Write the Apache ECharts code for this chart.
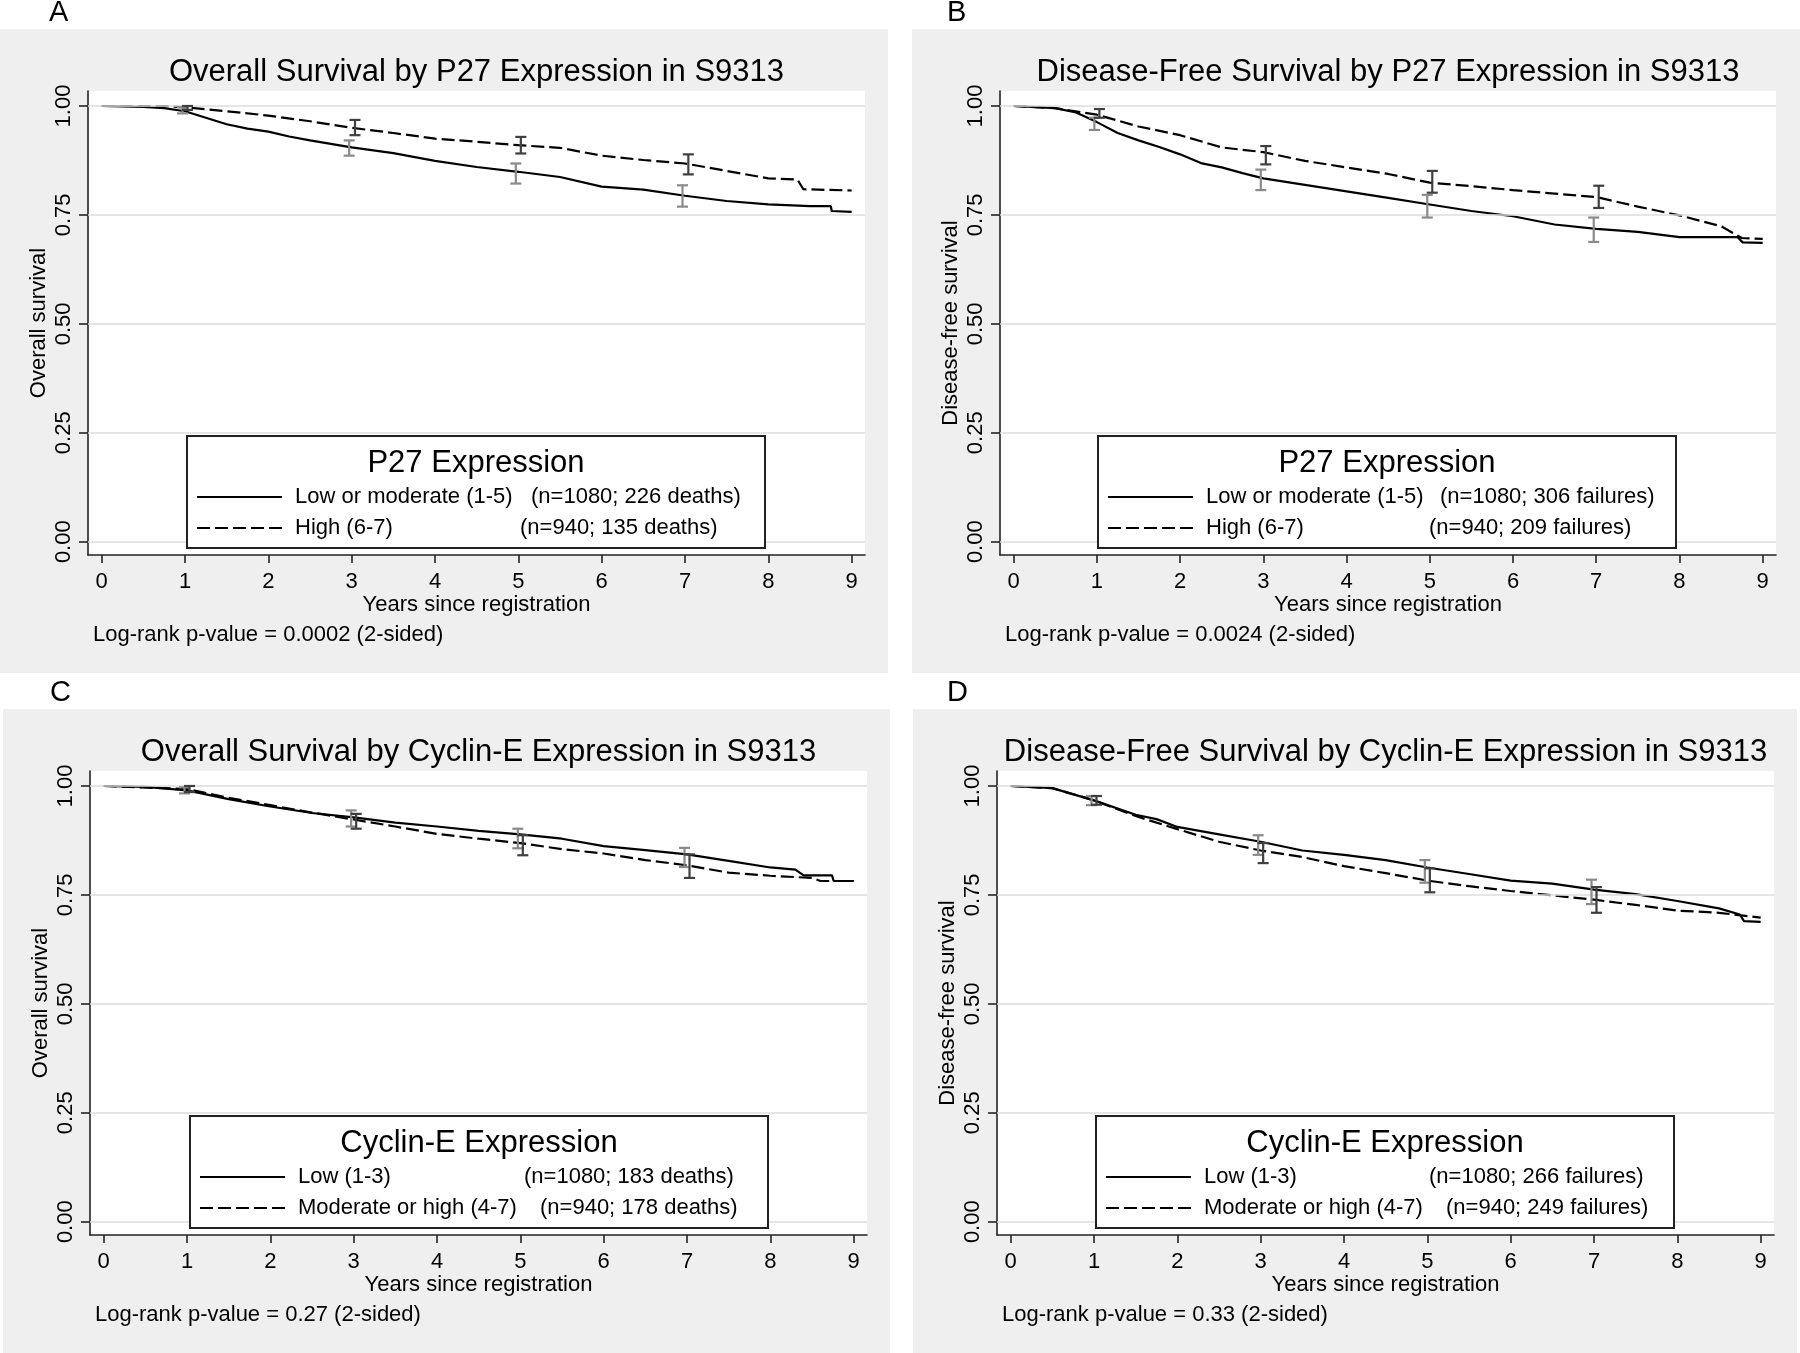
<!DOCTYPE html>
<html><head><meta charset="utf-8">
<script src="https://cdn.jsdelivr.net/npm/echarts@6/dist/echarts.min.js"></script>
<style>html,body{margin:0;padding:0;background:#fff}#c{width:1800px;height:1353px}</style>
</head><body><div id="c"></div><script>
// ---------------- data ----------------
const xTickValues = [0, 1, 2, 3, 4, 5, 6, 7, 8, 9];
const yTickValues = [0, 0.25, 0.5, 0.75, 1];
const yTickLabels = ['0.00', '0.25', '0.50', '0.75', '1.00'];
const panelLetters = ['A', 'B', 'C', 'D'];
const panelTitles = [
  'Overall Survival by P27 Expression in S9313',
  'Disease-Free Survival by P27 Expression in S9313',
  'Overall Survival by Cyclin-E Expression in S9313',
  'Disease-Free Survival by Cyclin-E Expression in S9313'
];
const yAxisTitles = ['Overall survival', 'Disease-free survival', 'Overall survival', 'Disease-free survival'];
const xAxisTitle = 'Years since registration';
const pValueTexts = [
  'Log-rank p-value = 0.0002 (2-sided)',
  'Log-rank p-value = 0.0024 (2-sided)',
  'Log-rank p-value = 0.27 (2-sided)',
  'Log-rank p-value = 0.33 (2-sided)'
];
const legendTitles = ['P27 Expression', 'P27 Expression', 'Cyclin-E Expression', 'Cyclin-E Expression'];
const groupLabels = [
  ['Low or moderate (1-5)', 'High (6-7)'],
  ['Low or moderate (1-5)', 'High (6-7)'],
  ['Low (1-3)', 'Moderate or high (4-7)'],
  ['Low (1-3)', 'Moderate or high (4-7)']
];
const groupCounts = [
  ['(n=1080; 226 deaths)', '(n=940; 135 deaths)'],
  ['(n=1080; 306 failures)', '(n=940; 209 failures)'],
  ['(n=1080; 183 deaths)', '(n=940; 178 deaths)'],
  ['(n=1080; 266 failures)', '(n=940; 249 failures)']
];

// Kaplan-Meier estimates: [years, survival]
const survA_low = [[0,1],[0.5,0.998],[0.75,0.995],[1,0.988],[1.25,0.973],[1.5,0.958],[1.75,0.948],[2,0.941],[2.25,0.93],[2.5,0.921],[2.75,0.913],[3,0.905],[3.5,0.892],[4,0.874],[4.5,0.86],[5,0.849],[5.5,0.837],[6,0.815],[6.5,0.808],[7,0.794],[7.5,0.782],[8,0.774],[8.5,0.77],[8.75,0.77],[8.76,0.759],[9,0.757]];
const survA_high = [[0,1],[0.75,1],[1,0.997],[1.5,0.988],[2,0.978],[2.5,0.965],[3,0.95],[3.5,0.938],[4,0.925],[4.5,0.918],[5,0.91],[5.5,0.904],[6,0.886],[6.5,0.876],[7,0.868],[7.5,0.851],[8,0.834],[8.35,0.831],[8.42,0.809],[9,0.806]];
const survB_low = [[0,1],[0.5,0.995],[0.75,0.985],[1,0.963],[1.25,0.938],[1.5,0.921],[1.75,0.906],[2,0.889],[2.25,0.869],[2.5,0.859],[2.75,0.846],[3,0.834],[3.5,0.819],[4,0.804],[4.5,0.789],[5,0.774],[5.5,0.759],[6,0.747],[6.5,0.728],[7,0.718],[7.5,0.711],[8,0.699],[8.7,0.699],[8.76,0.687],[9,0.686]];
const survB_high = [[0,1],[0.5,0.995],[1,0.98],[1.5,0.953],[2,0.933],[2.5,0.905],[3,0.894],[3.5,0.874],[4,0.859],[4.5,0.844],[5,0.824],[5.5,0.816],[6,0.807],[6.5,0.799],[7,0.791],[7.5,0.769],[8,0.749],[8.5,0.724],[8.75,0.697],[9,0.695]];
const survC_low = [[0,1],[0.5,0.998],[1,0.99],[1.5,0.97],[2,0.953],[2.5,0.938],[3,0.928],[3.5,0.916],[4,0.907],[4.5,0.897],[5,0.889],[5.5,0.879],[6,0.862],[6.5,0.853],[7,0.843],[7.5,0.828],[8,0.813],[8.3,0.808],[8.4,0.795],[8.74,0.795],[8.76,0.782],[9,0.782]];
const survC_high = [[0,1],[1,0.993],[1.5,0.973],[2,0.956],[2.5,0.939],[3,0.923],[3.5,0.907],[4,0.89],[4.5,0.879],[5,0.869],[5.5,0.855],[6,0.845],[6.5,0.83],[7,0.818],[7.5,0.801],[8,0.794],[8.5,0.789],[8.6,0.782],[9,0.782]];
const survD_low = [[0,1],[0.5,0.995],[1,0.967],[1.5,0.934],[1.75,0.924],[2,0.906],[2.5,0.889],[3,0.872],[3.5,0.852],[4,0.842],[4.5,0.83],[5,0.813],[5.5,0.798],[6,0.783],[6.5,0.776],[7,0.762],[7.5,0.752],[8,0.736],[8.5,0.719],[8.75,0.705],[8.8,0.69],[9,0.688]];
const survD_high = [[0,1],[0.5,0.995],[1,0.967],[1.5,0.931],[2,0.901],[2.5,0.872],[3,0.852],[3.5,0.837],[4,0.816],[4.5,0.8],[5,0.783],[5.5,0.77],[6,0.759],[6.5,0.749],[7,0.739],[7.5,0.727],[8,0.714],[8.5,0.709],[9,0.698]];

// Confidence intervals: [years, lower, upper]
const ciA_low = [[0.97,0.983,0.997],[2.97,0.886,0.921],[4.97,0.822,0.868],[6.97,0.769,0.818]];
const ciA_high = [[1.03,0.991,1.0],[3.04,0.933,0.968],[5.03,0.891,0.929],[7.04,0.843,0.889]];
const ciB_low = [[0.97,0.945,0.973],[2.97,0.807,0.854],[4.97,0.744,0.796],[6.97,0.688,0.744]];
const ciB_high = [[1.03,0.973,0.993],[3.03,0.866,0.908],[5.03,0.801,0.851],[7.03,0.766,0.817]];
const ciC_low = [[0.97,0.983,0.997],[2.97,0.907,0.944],[4.97,0.857,0.902],[6.97,0.814,0.858]];
const ciC_high = [[1.03,0.986,1.0],[3.03,0.902,0.936],[5.03,0.841,0.887],[7.03,0.789,0.843]];
const ciD_low = [[0.97,0.956,0.977],[2.97,0.842,0.887],[4.97,0.778,0.83],[6.97,0.729,0.785]];
const ciD_high = [[1.03,0.957,0.977],[3.03,0.823,0.869],[5.03,0.756,0.811],[7.03,0.709,0.768]];

// ---------------- layout ----------------
const FONT = '"Liberation Sans", Arial, Helvetica, sans-serif';
const layout = [
  {bg:[0,29,888,644],   left:88,   top:91,  width:777, letterX:49,  legLeft:187,  countX:[344,333], pX:93},
  {bg:[912,29,888,644], left:1000, top:91,  width:776, letterX:947, legLeft:1098, countX:[342,331], pX:1005},
  {bg:[3,709,887,644],  left:90,   top:771, width:777, letterX:50,  legLeft:190,  countX:[334,350], pX:95},
  {bg:[913,709,884,644],left:997,  top:771, width:777, letterX:947, legLeft:1096, countX:[333,350], pX:1002}
];
const PLOT_H = 464, LEG_W = 578, LEG_H = 112;
const curves = [[survA_low, survA_high],[survB_low, survB_high],[survC_low, survC_high],[survD_low, survD_high]];
const cis = [[ciA_low, ciA_high],[ciB_low, ciB_high],[ciC_low, ciC_high],[ciD_low, ciD_high]];
const DASH = [13, 5];

const grids = [], xAxes = [], yAxes = [], series = [], graphics = [];
function txt(x, y, text, size, align, extra) {
  return Object.assign({type:'text', x:x, y:y, z:50, silent:true, style:{
    text:text, font: size + 'px ' + FONT, fill:'#000',
    textAlign:align, textVerticalAlign:'middle', align:align, verticalAlign:'middle'}}, extra || {});
}
layout.forEach((L, i) => {
  const [bx, by, bw, bh] = L.bg;
  graphics.push({type:'rect', z:-100, silent:true, shape:{x:bx, y:by, width:bw, height:bh}, style:{fill:'#efefef'}});
  graphics.push(txt(L.letterX, by - 16, panelLetters[i], 29, 'left'));
  graphics.push(txt(L.left + L.width / 2, L.top - 19, panelTitles[i], 31, 'center'));
  graphics.push(txt(L.pX, L.top + 544, pValueTexts[i], 22, 'left'));
  // legend box
  const lx = L.legLeft, ly = L.top + 345;
  graphics.push({type:'rect', z:60, silent:true, shape:{x:lx, y:ly, width:LEG_W, height:LEG_H}, style:{fill:'#fff', stroke:'#222', lineWidth:2}});
  graphics.push(txt(lx + LEG_W / 2, ly + 27, legendTitles[i], 31, 'center', {z:61}));
  [0, 1].forEach(r => {
    const ry = ly + 61 + r * 31;
    graphics.push({type:'line', z:61, silent:true, shape:{x1:lx + 10, y1:ry, x2:lx + 95, y2:ry},
      style:{stroke:'#000', lineWidth:2.2, lineDash: r ? DASH : null}});
    graphics.push(txt(lx + 108, ry, groupLabels[i][r], 22, 'left', {z:61}));
    graphics.push(txt(lx + L.countX[r], ry, groupCounts[i][r], 22, 'left', {z:61}));
  });

  grids.push({left:L.left, top:L.top, width:L.width, height:PLOT_H, show:true, backgroundColor:'#fff', borderWidth:0, containLabel:false});
  xAxes.push({gridIndex:i, type:'value', min:-0.164, max:9.16,
    axisLine:{onZero:false, lineStyle:{color:'#222', width:1.6}},
    axisTick:{customValues:xTickValues, length:8, lineStyle:{color:'#222', width:1.6}},
    axisLabel:{customValues:xTickValues, margin:16, fontSize:22, color:'#000', fontFamily:FONT},
    splitLine:{show:false},
    name:xAxisTitle, nameLocation:'middle', nameGap:38, nameTextStyle:{fontSize:22, color:'#000', fontFamily:FONT}});
  yAxes.push({gridIndex:i, type:'value', min:-0.0305, max:1.0344,
    axisLine:{onZero:false, lineStyle:{color:'#222', width:1.6}},
    axisTick:{customValues:yTickValues, length:9, lineStyle:{color:'#222', width:1.6}},
    axisLabel:{customValues:yTickValues, rotate:90, margin:13, fontSize:22, color:'#000', fontFamily:FONT,
      formatter: v => yTickLabels[yTickValues.indexOf(Math.round(v * 100) / 100)] || v.toFixed(2)},
    splitLine:{show:false},
    name:yAxisTitles[i], nameLocation:'middle', nameRotate:90, nameGap:38, nameTextStyle:{fontSize:22, color:'#000', fontFamily:FONT}});

  // grid lines (at the y ticks)
  series.push({type:'line', xAxisIndex:i, yAxisIndex:i, data:curves[i][0], symbol:'none', z:1, silent:true,
    lineStyle:{opacity:0}, tooltip:{show:false},
    markLine:{silent:true, symbol:'none', label:{show:false}, animation:false,
      lineStyle:{color:'#dcdcdc', width:1.6, type:'solid'}, data: yTickValues.map(v => ({yAxis:v}))}});
  // KM curves
  [0, 1].forEach(g => {
    series.push({type:'line', name:groupLabels[i][g], xAxisIndex:i, yAxisIndex:i, data:curves[i][g], symbol:'none', showSymbol:false, z:3,
      lineStyle:{color:'#000', width:2.2, type: g ? DASH : 'solid'}});
  });
  // CI bars
  [0, 1].forEach(g => {
    const col = g ? '#3f3f3f' : '#8a8a8a';
    series.push({type:'custom', xAxisIndex:i, yAxisIndex:i, data:cis[i][g], z:5, encode:{x:0, y:[1, 2]},
      renderItem: (params, api) => {
        const lo = api.coord([api.value(0), api.value(1)]);
        const hi = api.coord([api.value(0), api.value(2)]);
        const w = 5.5, st = {stroke:col, lineWidth:2.2};
        return {type:'group', children:[
          {type:'line', shape:{x1:lo[0], y1:lo[1], x2:hi[0], y2:hi[1]}, style:st},
          {type:'line', shape:{x1:lo[0]-w, y1:lo[1], x2:lo[0]+w, y2:lo[1]}, style:st},
          {type:'line', shape:{x1:hi[0]-w, y1:hi[1], x2:hi[0]+w, y2:hi[1]}, style:st}
        ]};
      }});
  });
});

const chart = echarts.init(document.getElementById('c'), null, {renderer:'canvas', width:1800, height:1353});
chart.setOption({
  backgroundColor:'#fff',
  animation:false,
  textStyle:{fontFamily:FONT},
  grid:grids, xAxis:xAxes, yAxis:yAxes, series:series, graphic:graphics
});
</script></body></html>
